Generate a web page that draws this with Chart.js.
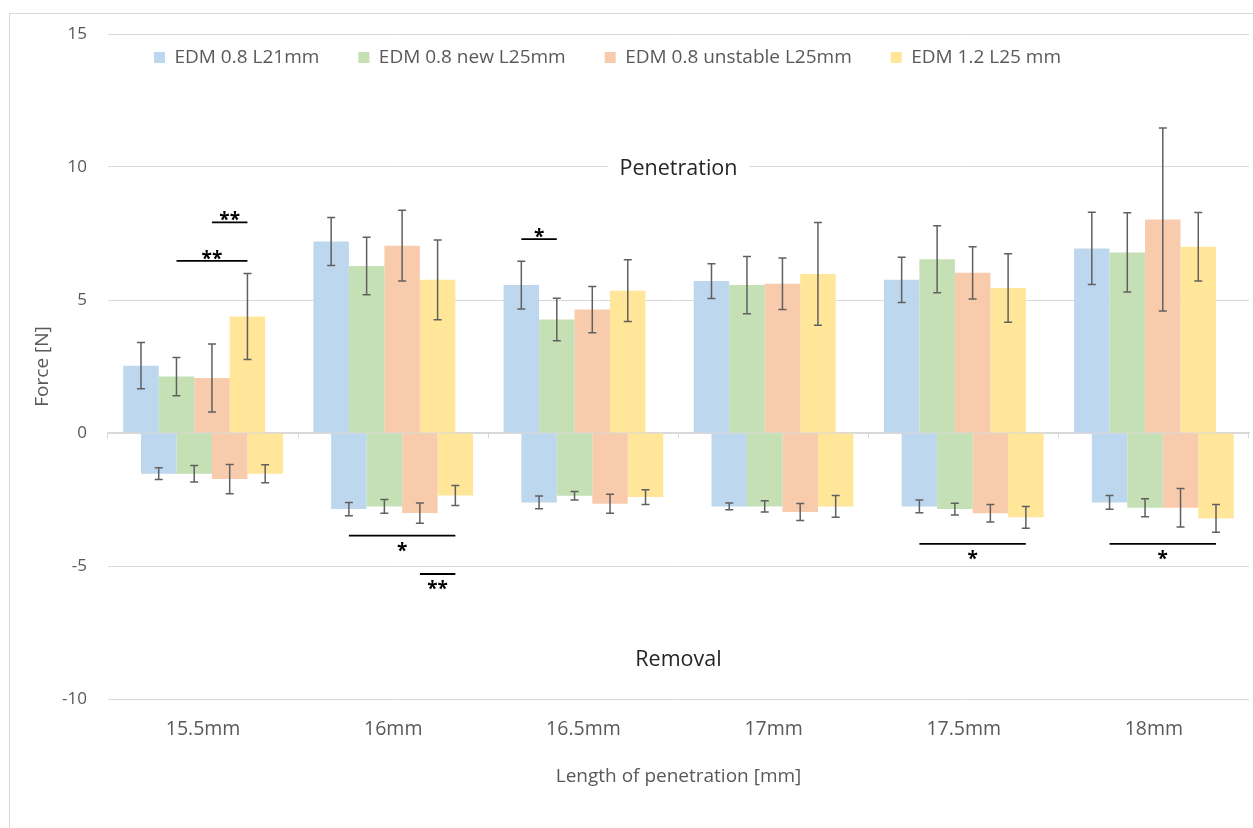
<!DOCTYPE html>
<html><head><meta charset="utf-8">
<script src="https://cdn.jsdelivr.net/npm/chart.js@4.4.1/dist/chart.umd.min.js"></script>
<style>
html,body{margin:0;padding:0;background:#fff;}
#wrap{position:relative;width:1253px;height:828px;overflow:hidden;}
#frame{position:absolute;left:9px;top:13px;width:1270px;height:840px;border:1px solid #d9d9d9;box-sizing:border-box;}
canvas{position:absolute;left:0;top:0;}
</style></head><body>
<div id="wrap"><div id="frame"></div><canvas id="c" width="1253" height="828"></canvas></div>
<script>
// ---- data ----
const categories = ['15.5mm','16mm','16.5mm','17mm','17.5mm','18mm'];
const seriesNames = ['EDM 0.8 L21mm','EDM 0.8 new L25mm','EDM 0.8 unstable L25mm','EDM 1.2 L25 mm'];

const penBlue   = [2.53, 7.20, 5.56, 5.71, 5.76, 6.94];
const penGreen  = [2.12, 6.28, 4.27, 5.56, 6.53, 6.79];
const penOrange = [2.07, 7.04, 4.64, 5.61, 6.02, 8.03];
const penYellow = [4.38, 5.76, 5.35, 5.98, 5.45, 7.00];
const penBlueErr   = [0.87, 0.90, 0.90, 0.65, 0.85, 1.36];
const penGreenErr  = [0.72, 1.08, 0.80, 1.08, 1.26, 1.49];
const penOrangeErr = [1.28, 1.33, 0.87, 0.97, 0.98, 3.44];
const penYellowErr = [1.62, 1.50, 1.16, 1.93, 1.29, 1.29];

const remBlue   = [-1.53, -2.86, -2.61, -2.76, -2.76, -2.61];
const remGreen  = [-1.53, -2.76, -2.36, -2.76, -2.86, -2.81];
const remOrange = [-1.73, -3.01, -2.66, -2.97, -3.02, -2.81];
const remYellow = [-1.53, -2.35, -2.41, -2.76, -3.17, -3.21];
const remBlueErr   = [0.22, 0.25, 0.24, 0.13, 0.24, 0.26];
const remGreenErr  = [0.31, 0.26, 0.16, 0.21, 0.22, 0.34];
const remOrangeErr = [0.55, 0.38, 0.36, 0.32, 0.33, 0.72];
const remYellowErr = [0.34, 0.38, 0.28, 0.41, 0.41, 0.52];

const yTicks = [-10, -5, 0, 5, 10, 15];

// significance brackets
const sigCategory = [0, 0, 1, 1, 2, 4, 5];
const sigSide     = ['pos','pos','neg','neg','pos','neg','neg'];
const sigFrom     = [1, 2, 0, 2, 0, 0, 0];
const sigTo       = [3, 3, 3, 3, 1, 3, 3];
const sigLevel    = [6.47, 7.92, -3.86, -5.30, 7.29, -4.17, -4.17];
const sigLabel    = ['**','**','*','**','*','*','*'];

const regionLabels = ['Penetration', 'Removal'];
const regionLevels = [10, -8.45];

// ---- styling ----
const FONT = "'Open Sans', 'Segoe UI', sans-serif";
Chart.defaults.font.family = FONT;
Chart.defaults.font.size = 17;
Chart.defaults.color = '#595959';
const GRID = '#d9d9d9';
const colors = ['#BDD7EE','#C5E0B4','#F8CBAD','#FFE699'];
const BAR = 0.1866;            // bar width as a fraction of one category

const penValues = [penBlue, penGreen, penOrange, penYellow];
const penErrors = [penBlueErr, penGreenErr, penOrangeErr, penYellowErr];
const remValues = [remBlue, remGreen, remOrange, remYellow];
const remErrors = [remBlueErr, remGreenErr, remOrangeErr, remYellowErr];

const datasets = [];
const scales = {};
function addSeries(vals, errs, s, side) {
  const id = 'x' + side + s;
  const off = (s - 1.5) * BAR + (side === 'p' ? -BAR / 4 : BAR / 4);
  scales[id] = {
    type: 'linear', display: false, offset: false,
    min: -0.5 - off, max: categories.length - 0.5 - off,
    afterBuildTicks: (sc) => { sc.ticks = categories.map((c, i) => ({ value: i })); }
  };
  datasets.push({
    label: side === 'p' ? seriesNames[s] : seriesNames[s] + ' (removal)',
    data: vals.map((v, i) => ({ x: i, y: v })), errors: errs,
    backgroundColor: colors[s], xAxisID: id, yAxisID: 'y', grouped: false,
    categoryPercentage: 1, barPercentage: BAR, borderWidth: 0
  });
}
penValues.forEach((v, s) => addSeries(v, penErrors[s], s, 'p'));
remValues.forEach((v, s) => addSeries(v, remErrors[s], s, 'n'));

scales.x = {
  type: 'category', labels: categories, position: 'bottom', offset: true,
  grid: { display: false }, border: { display: false },
  ticks: { padding: 11, color: '#595959', font: { size: 19.5 } },
  title: { display: true, text: 'Length of penetration [mm]', color: '#595959', font: { size: 19 }, padding: { top: 0, bottom: 40 } },
  afterFit: (s) => { s.height = 129; }
};
scales.x0 = {
  type: 'category', labels: categories, position: { y: 0 }, offset: true,
  grid: { offset: true, drawOnChartArea: false, drawTicks: true, tickLength: 5, color: GRID, lineWidth: 1 },
  border: { display: true, color: GRID, width: 1.5 },
  ticks: { display: false }
};
scales.y = {
  type: 'linear', min: yTicks[0], max: yTicks[yTicks.length - 1],
  afterBuildTicks: (s) => { s.ticks = yTicks.map(v => ({ value: v })); },
  ticks: { padding: 21, color: '#595959', font: { size: 17 } },
  grid: { color: GRID, drawTicks: false, lineWidth: 1 }, border: { display: false },
  title: { display: true, text: 'Force [N]', color: '#595959', font: { size: 19 }, padding: { top: 31, bottom: 0 } },
  afterFit: (s) => { s.width = 108; }
};

const legendPos = {
  id: 'legendPos',
  beforeLayout(chart) {
    if (chart.legend && !chart.legend._horiz) {
      chart.legend.isHorizontal = () => true;
      chart.legend._horiz = true;
    }
  },
  afterLayout(chart) {
    const lg = chart.legend, ca = chart.chartArea;
    const h = lg.height;
    lg.left = ca.left + 7; lg.right = ca.right;
    lg.top = ca.top - 25; lg.bottom = lg.top + h;
  }
};

const errorBars = {
  id: 'errorBars',
  afterDatasetsDraw(chart) {
    const ctx = chart.ctx, ys = chart.scales.y;
    ctx.save();
    ctx.strokeStyle = '#606060'; ctx.lineWidth = 1.5;
    chart.data.datasets.forEach((ds, di) => {
      const meta = chart.getDatasetMeta(di);
      meta.data.forEach((bar, i) => {
        const v = ds.data[i].y, e = ds.errors[i];
        const x = bar.x, y1 = ys.getPixelForValue(v + e), y2 = ys.getPixelForValue(v - e);
        ctx.beginPath();
        ctx.moveTo(x, y1); ctx.lineTo(x, y2);
        ctx.moveTo(x - 4, y1); ctx.lineTo(x + 4, y1);
        ctx.moveTo(x - 4, y2); ctx.lineTo(x + 4, y2);
        ctx.stroke();
      });
    });
    // significance brackets
    ctx.strokeStyle = '#000'; ctx.fillStyle = '#000'; ctx.lineWidth = 1.8;
    ctx.font = "bold 19px " + FONT;
    ctx.textAlign = 'center'; ctx.textBaseline = 'alphabetic';
    sigCategory.forEach((c, k) => {
      const base = sigSide[k] === 'pos' ? 0 : 4;
      const xa = chart.getDatasetMeta(base + sigFrom[k]).data[c].x;
      const xb = chart.getDatasetMeta(base + sigTo[k]).data[c].x;
      const yy = ys.getPixelForValue(sigLevel[k]);
      ctx.beginPath(); ctx.moveTo(xa, yy); ctx.lineTo(xb, yy); ctx.stroke();
      const ty = sigSide[k] === 'pos' ? yy + 4 : yy + 21;
      ctx.fillText(sigLabel[k], (xa + xb) / 2, ty);
    });
    // region labels
    const ca = chart.chartArea, cx = (ca.left + ca.right) / 2;
    ctx.font = "21.5px " + FONT;
    ctx.textBaseline = 'middle';
    regionLabels.forEach((t, k) => {
      const yy = ys.getPixelForValue(regionLevels[k]);
      const w = ctx.measureText(t).width;
      ctx.fillStyle = '#fff';
      ctx.fillRect(cx - w / 2 - 12, yy - 12, w + 24, 24);
      ctx.fillStyle = '#262626';
      ctx.fillText(t, cx, yy + 2);
    });
    ctx.restore();
  }
};

new Chart(document.getElementById('c'), {
  type: 'bar',
  data: { datasets },
  options: {
    responsive: false, animation: false,
    layout: { padding: { left: 0, right: 4, top: 34, bottom: 0 } },
    plugins: {
      tooltip: { enabled: false },
      legend: {
        position: 'chartArea', align: 'start',
        labels: {
          boxWidth: 11, boxHeight: 11, padding: 39, color: '#595959', font: { size: 19 },
          filter: (item) => item.datasetIndex < 4
        }
      }
    },
    scales
  },
  plugins: [legendPos, errorBars]
});
</script>
</body></html>
